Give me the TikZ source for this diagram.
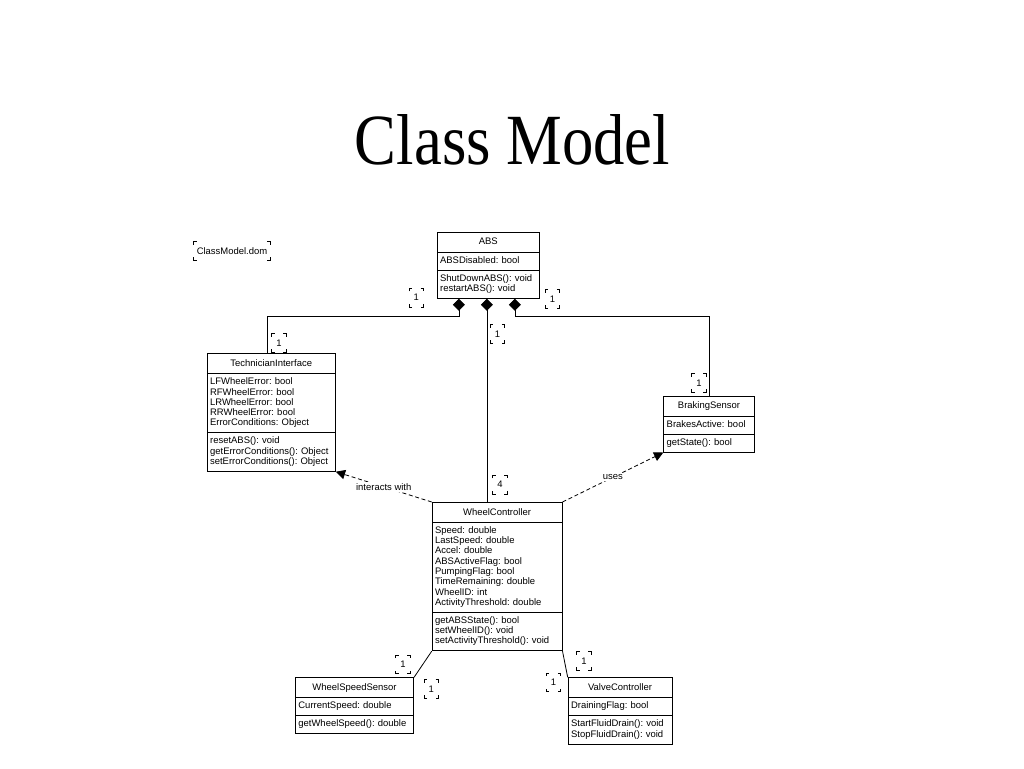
\documentclass[tikz,border=0pt]{standalone}
\usepackage{fontspec}
\usepackage{graphicx}
\setmainfont{Liberation Serif}
\newfontfamily\umlfont{Liberation Sans}
\usetikzlibrary{shapes.multipart,arrows.meta}
\frenchspacing

\newcommand\umlclass[6]{%
  \node[umlclass,text width=#3] (#1) at #2 {\centering\rule[-2.6pt]{0pt}{9.2pt}#4\par
    \nodepart{two}\strut#5\strut
    \nodepart{three}\strut#6\strut};}
\newcommand\multbox[3]{%
  \node[multnode] (#1) at #2 {#3};
  \draw[corner] (#1.north west) ++(0,3) -- ++(0,-3) -- ++(3,0)
    (#1.north east) ++(-3,0) -- ++(3,0) -- ++(0,3)
    (#1.south east) ++(0,-3) -- ++(0,3) -- ++(-3,0)
    (#1.south west) ++(3,0) -- ++(-3,0) -- ++(0,-3);}

\begin{document}
\begin{tikzpicture}[x=0.75pt,y=-0.75pt,
    umlclass/.style={draw,rectangle split,rectangle split parts=3,anchor=north west,
      align=left,inner xsep=2.25pt,inner ysep=2.6pt,line width=0.6pt,
      font=\umlfont\fontsize{7.1}{7.7}\selectfont},
    multnode/.style={inner xsep=2pt,inner ysep=0pt,minimum width=10.5pt,
      minimum height=13.5pt,font=\umlfont\fontsize{7.1}{7.7}\selectfont},
    corner/.style={line width=0.5pt},
    comp/.style={{Diamond[length=9pt,width=9pt]}-,line width=0.6pt},
    dep/.style={-{Triangle[length=7pt,width=7pt]},dash pattern=on 3pt off 2pt,line width=0.6pt},
    lbl/.style={fill=white,inner sep=1pt,font=\umlfont\fontsize{7.1}{7.7}\selectfont}]
    \fill[white] (0,0) rectangle (1024,768);
    \useasboundingbox (0,0) rectangle (1024,768);
    \node[anchor=base,font=\fontsize{47}{50}\selectfont] (title) at (512.5,164)
      {\scalebox{1}[1.15]{Class Model}};
    \multbox{dom}{(232,251)}{ClassModel.dom}
    \umlclass{abs}{(436.7,231.7)}{72.2pt}{ABS}{ABSDisabled: bool}
      {ShutDownABS(): void\\restartABS(): void}
    \umlclass{ti}{(206.7,353.3)}{91.7pt}{TechnicianInterface}
      {LFWheelError: bool\\RFWheelError: bool\\LRWheelError: bool\\RRWheelError: bool\\ErrorConditions: Object}
      {resetABS(): void\\getErrorConditions(): Object\\setErrorConditions(): Object}
    \umlclass{bs}{(663.3,395.7)}{63.5pt}{BrakingSensor}{BrakesActive: bool}{getState(): bool}
    \umlclass{wc}{(431.7,502)}{93pt}{WheelController}
      {Speed: double\\LastSpeed: double\\Accel: double\\ABSActiveFlag: bool\\PumpingFlag: bool\\TimeRemaining: double\\WheelID: int\\ActivityThreshold: double}
      {getABSState(): bool\\setWheelID(): void\\setActivityThreshold(): void}
    \umlclass{wss}{(295,677.3)}{84.2pt}{WheelSpeedSensor}{CurrentSpeed: double}{getWheelSpeed(): double}
    \umlclass{vc}{(567.7,677.3)}{73.5pt}{ValveController}{DrainingFlag: bool}
      {StartFluidDrain(): void\\StopFluidDrain(): void}
    \coordinate (absL) at ([xshift=-22pt]abs.south);
    \coordinate (absM) at ([xshift=-1pt]abs.south);
    \coordinate (absR) at ([xshift=20pt]abs.south);
    \draw[comp] (absL) -- ++(0,18) -| ([xshift=-3pt]ti.north);
    \draw[comp] (absM) -- (absM |- wc.north);
    \draw[comp] (absR) -- ++(0,18) -| (bs.north);
    \draw[dep] (wc.north west) -- node[lbl] {interacts with} (ti.south east);
    \draw[dep] (wc.north east) -- node[lbl] {uses} (bs.south west);
    \draw[line width=0.6pt] (wc.south west) -- (wss.north east);
    \draw[line width=0.6pt] (wc.south east) -- (vc.north west);
    \multbox{m1}{(416.3,297.7)}{1}
    \multbox{m2}{(279,343)}{1}
    \multbox{m3}{(497.5,334)}{1}
    \multbox{m4}{(552.5,299)}{1}
    \multbox{m5}{(699,383)}{1}
    \multbox{m6}{(500,484.7)}{4}
    \multbox{m7}{(403,664.5)}{1}
    \multbox{m8}{(431.3,689)}{1}
    \multbox{m9}{(553.5,682.5)}{1}
    \multbox{m10}{(584,661)}{1}
\end{tikzpicture}
\end{document}
